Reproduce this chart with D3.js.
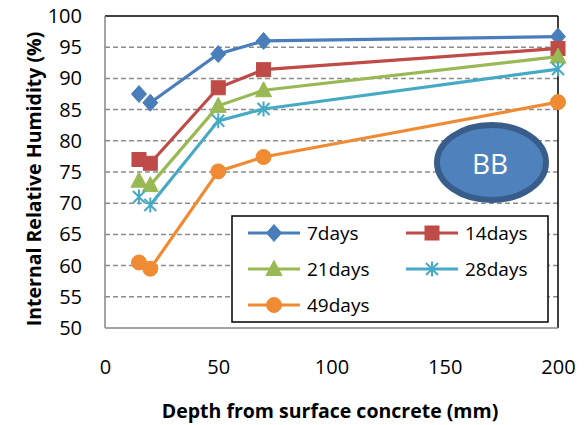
<!DOCTYPE html>
<html>
<head>
<meta charset="utf-8">
<script src="https://cdn.jsdelivr.net/npm/d3@7"></script>
<style>
  body { margin: 0; background: #fff; }
  text { font-family: "Open Sans", "Liberation Sans", sans-serif; }
</style>
</head>
<body>
<svg id="chart" width="586" height="425"></svg>
<script>
// depth positions (mm)
const depths = [15, 20, 50, 70, 200];

// RH readings per age
const rh7 = [87.5, 86.1, 93.9, 96.0, 96.7];
const rh14 = [77.0, 76.4, 88.5, 91.4, 94.8];
const rh21 = [73.6, 72.9, 85.6, 88.1, 93.5];
const rh28 = [71.0, 69.7, 83.2, 85.1, 91.5];
const rh49 = [60.5, 59.5, 75.1, 77.4, 86.2];

const seriesNames = ["7days", "14days", "21days", "28days", "49days"];
const seriesColors = ["#4A7EBB", "#BE4B48", "#98B954", "#46AAC5", "#F08A33"];
const seriesMarkers = ["diamond", "square", "triangle", "star", "circle"];

const yTicks = [50, 55, 60, 65, 70, 75, 80, 85, 90, 95, 100];
const xTicks = [0, 50, 100, 150, 200];

const allSeries = [rh7, rh14, rh21, rh28, rh49].map((vals, i) => ({
  name: seriesNames[i], color: seriesColors[i], marker: seriesMarkers[i],
  points: depths.map((d, j) => ({x: d, y: vals[j]}))
}));

const svg = d3.select("#chart");
const plot = {left: 105, right: 558, top: 16, bottom: 328};

const x = d3.scaleLinear().domain([0, 200]).range([plot.left, plot.right]);
const y = d3.scaleLinear().domain([50, 100]).range([plot.bottom, plot.top]);

// gridlines (dashed)
svg.append("g").selectAll("line")
  .data(yTicks.filter(t => t > 50 && t < 100))
  .enter().append("line")
  .attr("x1", plot.left).attr("x2", plot.right)
  .attr("y1", d => y(d)).attr("y2", d => y(d))
  .attr("stroke", "#8c8c8c").attr("stroke-width", 1.5)
  .attr("stroke-dasharray", "5,3");

// frame: top and right dark, left and bottom gray
svg.append("line").attr("x1", plot.left).attr("x2", plot.right)
  .attr("y1", plot.top).attr("y2", plot.top).attr("stroke", "#000").attr("stroke-width", 1.5);
svg.append("line").attr("x1", plot.right).attr("x2", plot.right)
  .attr("y1", plot.top).attr("y2", plot.bottom).attr("stroke", "#000").attr("stroke-width", 1.5);
svg.append("line").attr("x1", plot.left).attr("x2", plot.left)
  .attr("y1", plot.top).attr("y2", plot.bottom).attr("stroke", "#868686").attr("stroke-width", 1.5);
svg.append("line").attr("x1", plot.left).attr("x2", plot.right)
  .attr("y1", plot.bottom).attr("y2", plot.bottom).attr("stroke", "#868686").attr("stroke-width", 1.5);

// axes tick labels
const yAxis = d3.axisLeft(y).tickValues(yTicks).tickSize(0).tickPadding(23);
svg.append("g").attr("transform", `translate(${plot.left},0)`).call(yAxis)
  .call(g => g.select(".domain").remove())
  .selectAll("text").attr("font-size", 20).attr("fill", "#000")
  .style("font-family", "'Open Sans', sans-serif");

const xAxis = d3.axisBottom(x).tickValues(xTicks).tickSize(0).tickPadding(32);
svg.append("g").attr("transform", `translate(0,${plot.bottom})`).call(xAxis)
  .call(g => g.select(".domain").remove())
  .selectAll("text").attr("font-size", 20).attr("fill", "#000")
  .style("font-family", "'Open Sans', sans-serif");

// axis titles
svg.append("text")
  .attr("transform", `translate(41,179) rotate(-90)`)
  .attr("text-anchor", "middle").attr("font-size", 19.5).attr("font-weight", "bold")
  .text("Internal Relative Humidity (%)");
svg.append("text")
  .attr("x", 330).attr("y", 418)
  .attr("text-anchor", "middle").attr("font-size", 19.5).attr("font-weight", "bold")
  .text("Depth from surface concrete (mm)");

// BB ellipse
svg.append("ellipse").attr("cx", 491.5).attr("cy", 162.5).attr("rx", 54.5).attr("ry", 37.5)
  .attr("fill", "#4F81BD").attr("stroke", "#385D8A").attr("stroke-width", 6);
svg.append("text").attr("x", 490).attr("y", 174).attr("text-anchor", "middle")
  .attr("font-size", 28).attr("fill", "#fff").text("BB");

const drawMarker = (g, type, color) => {
  if (type === "diamond") {
    g.append("path").attr("d", "M0,-8.5L7.5,0L0,8.5L-7.5,0Z").attr("fill", color).attr("stroke", color);
  } else if (type === "square") {
    g.append("rect").attr("x", -7).attr("y", -7).attr("width", 14).attr("height", 14)
      .attr("fill", color).attr("stroke", color);
  } else if (type === "triangle") {
    g.append("path").attr("d", "M0,-8.5L8,6.5L-8,6.5Z").attr("fill", color).attr("stroke", color);
  } else if (type === "star") {
    g.append("path").attr("d", "M-6,-6L6,6M-6,6L6,-6M0,-7.5L0,7.5")
      .attr("stroke", color).attr("stroke-width", 2).attr("fill", "none");
  } else {
    g.append("circle").attr("r", 7.5).attr("fill", color).attr("stroke", color);
  }
};

const line = d3.line().x(d => x(d.x)).y(d => y(d.y));

allSeries.forEach(s => {
  // first point is not connected to the rest
  svg.append("path").datum(s.points.slice(1))
    .attr("d", line).attr("fill", "none")
    .attr("stroke", s.color).attr("stroke-width", 3.2);
});

allSeries.forEach(s => {
  s.points.forEach(p => {
    const g = svg.append("g").attr("transform", `translate(${x(p.x)},${y(p.y)})`);
    drawMarker(g, s.marker, s.color);
  });
});

// legend
const legend = svg.append("g");
legend.append("rect").attr("x", 232).attr("y", 216).attr("width", 316).attr("height", 106)
  .attr("fill", "#fff").attr("stroke", "#000").attr("stroke-width", 1.5);
const legendPos = [[248, 233], [406, 233], [248, 269], [406, 269], [248, 305]];
allSeries.forEach((s, i) => {
  const [lx, ly] = legendPos[i];
  legend.append("line").attr("x1", lx).attr("x2", lx + 52).attr("y1", ly).attr("y2", ly)
    .attr("stroke", s.color).attr("stroke-width", 3.2);
  const g = legend.append("g").attr("transform", `translate(${lx + 26},${ly})`);
  drawMarker(g, s.marker, s.color);
  legend.append("text").attr("x", lx + 59).attr("y", ly + 7)
    .attr("font-size", 19).text(s.name);
});
</script>
</body>
</html>
